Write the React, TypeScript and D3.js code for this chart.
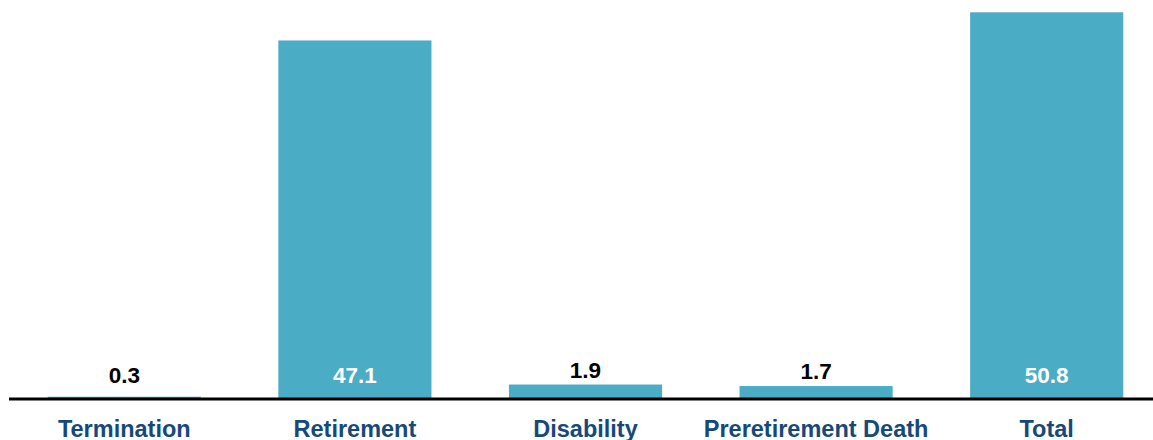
import React from "react";
import * as d3 from "d3";

const categories: string[] = ["Termination", "Retirement", "Disability", "Preretirement Death", "Total"];
const values: number[] = [0.3, 47.1, 1.9, 1.7, 50.8];
const valueLabels: string[] = ["0.3", "47.1", "1.9", "1.7", "50.8"];

const W = 1153;
const H = 440;
const BASE_Y = 399;
const TOP_Y = 12.3;
const BAR_COLOR = "#4BACC6";
const AXIS_TEXT = "#16497A";
const FONT = "'Liberation Sans', Arial, Helvetica, sans-serif";

export default function App() {
  const x = d3
    .scaleBand<string>()
    .domain(categories)
    .range([9, 9 + W])
    .paddingInner(0.336)
    .paddingOuter(0.168);

  const y = d3.scaleLinear().domain([0, 50.8]).range([BASE_Y, TOP_Y]);

  return (
    <svg
      width={W}
      height={H}
      style={{ position: "absolute", left: 0, top: 0, background: "#fff" }}
    >
      {categories.map((c, i) => {
        const v = values[i];
        const x0 = x(c)!;
        const bw = x.bandwidth();
        const top = y(v);
        const inside = BASE_Y - top > 40;
        const ly = inside ? 382.5 : Math.min(top - 7, 382.5);
        return (
          <g key={c}>
            <rect x={x0} y={top} width={bw} height={BASE_Y - top} fill={BAR_COLOR} />
            <text
              x={x0 + bw / 2}
              y={ly}
              textAnchor="middle"
              fontFamily={FONT}
              fontWeight="bold"
              fontSize={22.5}
              fill={inside ? "#ffffff" : "#000000"}
            >
              {valueLabels[i]}
            </text>
            <text
              x={x0 + bw / 2}
              y={437}
              textAnchor="middle"
              fontFamily={FONT}
              fontWeight="bold"
              fontSize={23.5}
              fill={AXIS_TEXT}
            >
              {c}
            </text>
          </g>
        );
      })}
      <line x1={9} x2={W} y1={BASE_Y} y2={BASE_Y} stroke="#000" strokeWidth={3} />
    </svg>
  );
}
